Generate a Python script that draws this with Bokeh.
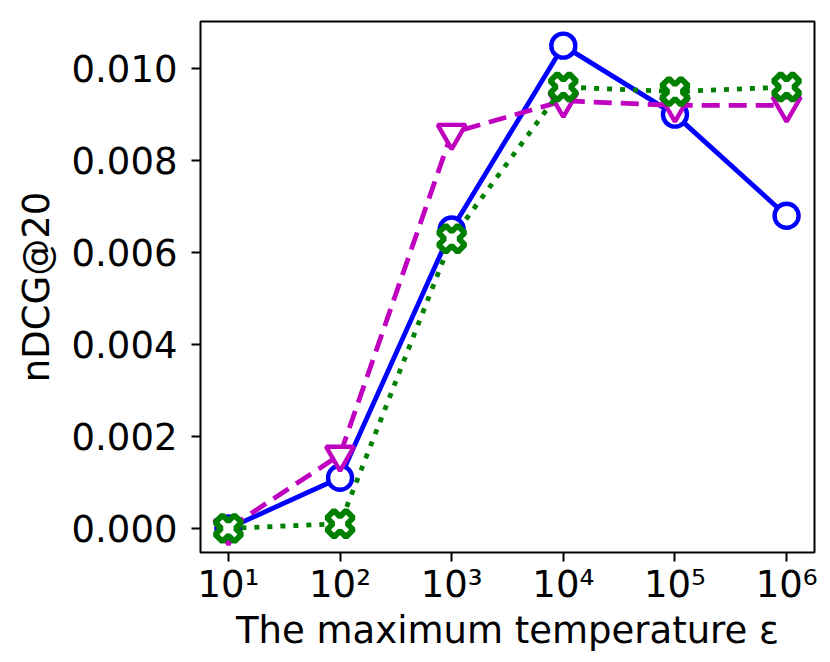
import math
from bokeh.plotting import figure
from bokeh.models import Range1d, FixedTicker
from bokeh.embed import file_html
from bokeh.resources import INLINE

# ---- data ----
temperatures = [10, 100, 1000, 10000, 100000, 1000000]
series_blue = [0.0000, 0.0011, 0.0065, 0.0105, 0.0090, 0.0068]
series_magenta = [0.0000, 0.0016, 0.0086, 0.0093, 0.0092, 0.0092]
series_green = [0.0000, 0.0001, 0.0063, 0.0096, 0.0095, 0.0096]
x_tick_values = [10, 100, 1000, 10000, 100000, 1000000]
x_tick_labels = ["10¹", "10²", "10³", "10⁴", "10⁵", "10⁶"]
y_tick_values = [0.000, 0.002, 0.004, 0.006, 0.008, 0.010]
y_tick_labels = ["0.000", "0.002", "0.004", "0.006", "0.008", "0.010"]
x_label = "The maximum temperature ε"
y_label = "nDCG@20"

FONT = "DejaVu Sans"
FS = "37px"

p = figure(
    width=830, height=662,
    x_axis_type="log",
    x_range=Range1d(10 ** 0.75, 10 ** 6.25),
    y_range=Range1d(-0.000525, 0.011025),
    output_backend="svg", toolbar_location=None,
    min_border_left=200, min_border_right=16,
    min_border_top=21, min_border_bottom=110,
)
p.background_fill_color = "white"
p.border_fill_color = "white"
p.outline_line_color = "black"
p.outline_line_width = 2
p.outline_line_alpha = 1.0
p.xgrid.visible = False
p.ygrid.visible = False

# axes
p.xaxis.ticker = FixedTicker(ticks=x_tick_values, minor_ticks=[])
p.xaxis.major_label_overrides = {v: s for v, s in zip(x_tick_values, x_tick_labels)}
p.yaxis.ticker = FixedTicker(ticks=y_tick_values, minor_ticks=[])
p.yaxis.major_label_overrides = {v: s for v, s in zip(y_tick_values, y_tick_labels)}
p.xaxis.axis_label = x_label
p.yaxis.axis_label = y_label
for ax in (p.xaxis, p.yaxis):
    ax.axis_line_color = None
    ax.major_tick_line_color = "black"
    ax.major_tick_line_width = 2
    ax.major_tick_out = 9
    ax.major_tick_in = 0
    ax.minor_tick_line_color = None
    ax.major_label_text_font = FONT
    ax.major_label_text_font_size = FS
    ax.major_label_text_color = "black"
    ax.axis_label_text_font = FONT
    ax.axis_label_text_font_size = FS
    ax.axis_label_text_font_style = "normal"
    ax.axis_label_text_color = "black"
p.yaxis.major_label_standoff = 14
p.yaxis.axis_label_standoff = 11
p.xaxis.major_label_standoff = 1
p.xaxis.axis_label_standoff = 0

LW = 4.8
MLW = 4.4

# series
p.line(temperatures, series_blue, line_color="#0000ff", line_width=LW, line_join="round")
p.scatter(temperatures, series_blue, marker="circle", size=24,
          fill_color="white", line_color="#0000ff", line_width=MLW)

p.line(temperatures, series_magenta, line_color="#bf00bf", line_width=LW,
       line_dash="18 9", line_join="round")
p.scatter(temperatures, series_magenta, marker="inverted_triangle", size=28,
          fill_color="white", line_color="#bf00bf", line_width=MLW)

p.line(temperatures, series_green, line_color="#008000", line_width=LW,
       line_dash="5 8", line_join="round")
p.scatter(temperatures, series_green, marker="plus", size=27, angle=math.pi / 4,
          fill_color="white", line_color="#008000", line_width=5.8)

open("out.html", "w").write(file_html(p, INLINE))
